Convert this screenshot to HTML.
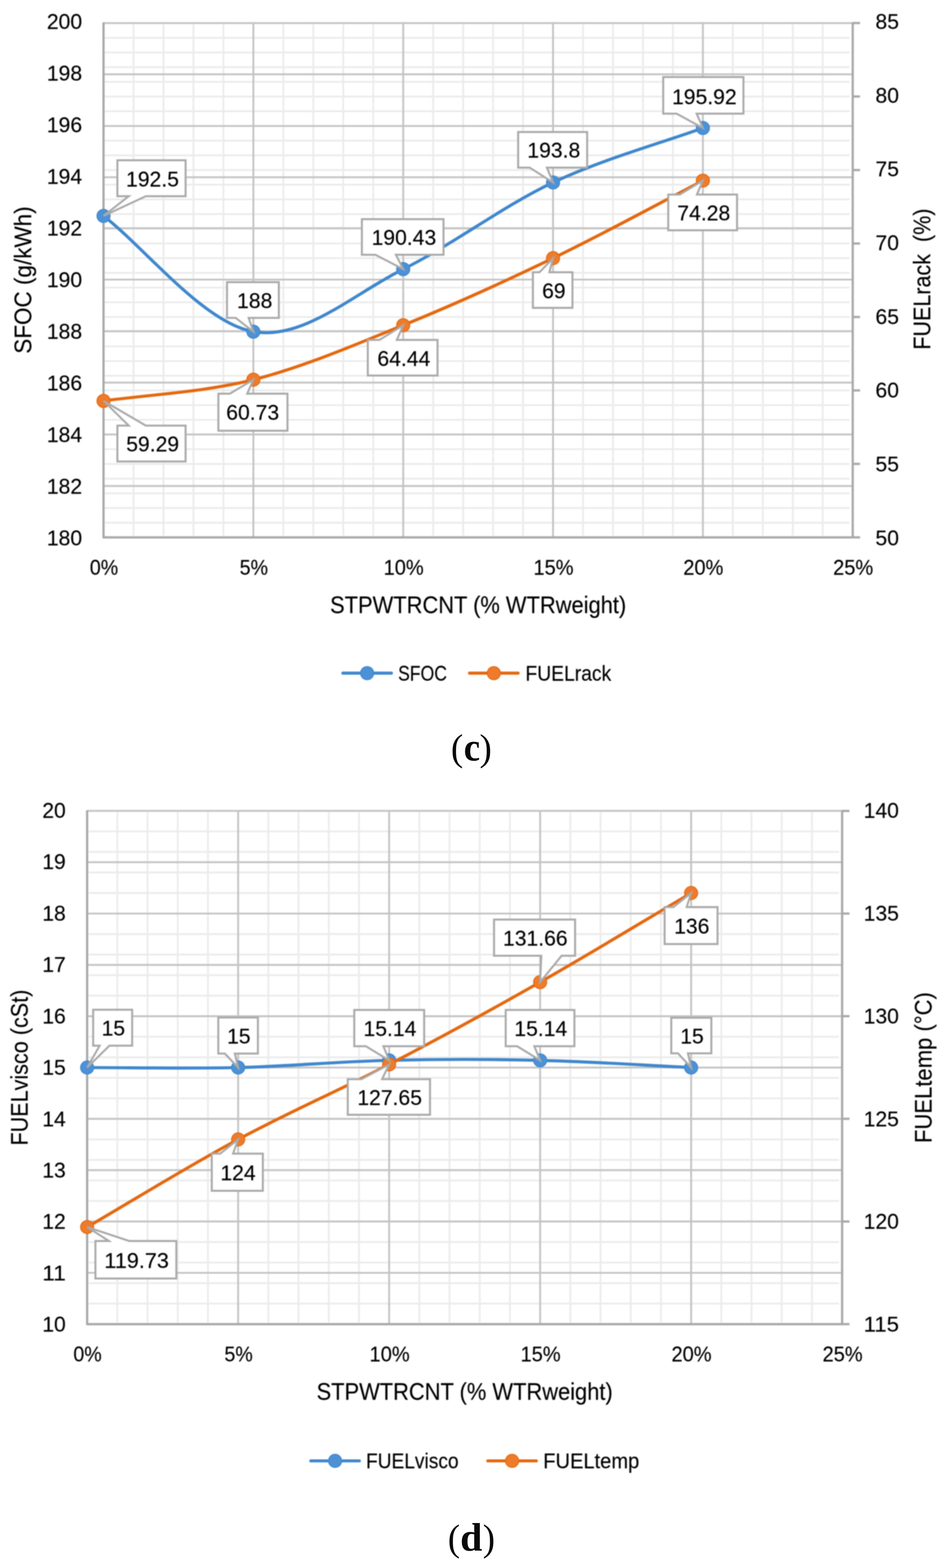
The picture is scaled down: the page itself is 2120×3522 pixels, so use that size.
<!DOCTYPE html>
<html lang="en">
<head>
<meta charset="utf-8">
<title>Charts (c) and (d)</title>
<style>
html,body{margin:0;padding:0;background:#fff;}
body{width:2120px;height:3522px;overflow:hidden;}
svg{display:block;font-family:"Liberation Sans","DejaVu Sans",sans-serif;}
svg text{stroke:#000;stroke-width:0.3px;paint-order:stroke;}
svg text.cap{stroke:none;}
</style>
</head>
<body>
<svg width="2120" height="3522" viewBox="0 0 2120 3522">
<defs><filter id="soft" color-interpolation-filters="sRGB" filterUnits="userSpaceOnUse" x="0" y="0" width="2120" height="3522"><feGaussianBlur stdDeviation="0.9"/></filter></defs>
<rect width="2120" height="3522" fill="#fff"/>
<g filter="url(#soft)">
<g>
<path d="M299.8,54.8V1203.1M367.1,54.8V1203.1M434.4,54.8V1203.1M501.7,54.8V1203.1M636.3,54.8V1203.1M703.6,54.8V1203.1M770.9,54.8V1203.1M838.2,54.8V1203.1M972.8,54.8V1203.1M1040.1,54.8V1203.1M1107.4,54.8V1203.1M1174.7,54.8V1203.1M1309.3,54.8V1203.1M1376.6,54.8V1203.1M1443.9,54.8V1203.1M1511.2,54.8V1203.1M1645.8,54.8V1203.1M1713.1,54.8V1203.1M1780.4,54.8V1203.1M1847.7,54.8V1203.1" stroke="#ececec" stroke-width="4.2" fill="none"/>
<path d="M235.5,84.8H1908.0M235.5,117.8H1908.0M235.5,150.8H1908.0M235.5,183.8H1908.0M235.5,216.8H1908.0M235.5,249.9H1908.0M235.5,282.9H1908.0M235.5,315.9H1908.0M235.5,348.9H1908.0M235.5,381.9H1908.0M235.5,414.9H1908.0M235.5,447.9H1908.0M235.5,480.9H1908.0M235.5,513.9H1908.0M235.5,546.9H1908.0M235.5,579.9H1908.0M235.5,612.9H1908.0M235.5,646.0H1908.0M235.5,679.0H1908.0M235.5,712.0H1908.0M235.5,745.0H1908.0M235.5,778.0H1908.0M235.5,811.0H1908.0M235.5,844.0H1908.0M235.5,877.0H1908.0M235.5,910.0H1908.0M235.5,943.0H1908.0M235.5,976.0H1908.0M235.5,1009.0H1908.0M235.5,1042.1H1908.0M235.5,1075.1H1908.0M235.5,1108.1H1908.0M235.5,1141.1H1908.0M235.5,1174.1H1908.0" stroke="#ececec" stroke-width="4.2" fill="none"/>
<path d="M232.5,51.8H1915.0M232.5,166.9H1915.0M232.5,283.0H1915.0M232.5,398.2H1915.0M232.5,512.6H1915.0M232.5,628.0H1915.0M232.5,743.8H1915.0M232.5,859.4H1915.0M232.5,975.8H1915.0M232.5,1091.7H1915.0M232.5,1207.1H1915.0M569.0,51.8V1207.1M905.5,51.8V1207.1M1242.0,51.8V1207.1M1578.5,51.8V1207.1" stroke="#c4c4c4" stroke-width="4.2" fill="none"/>
<path d="M232.5,50.3V1208.7M231.0,1207.1H1916.5M1915.0,50.3V1208.7M1915.0,51.8h16.5M1915.0,216.8h16.5M1915.0,381.9h16.5M1915.0,546.9h16.5M1915.0,712.0h16.5M1915.0,877.0h16.5M1915.0,1042.1h16.5M1915.0,1207.1h16.5" stroke="#a8a8a8" stroke-width="5.0" fill="none"/>
</g>
<g fill="#000000">
<text x="184.5" y="1224.5" font-size="47.3" text-anchor="end" textLength="79.3" lengthAdjust="spacingAndGlyphs" xml:space="preserve">180</text>
<text x="184.5" y="1108.5" font-size="47.3" text-anchor="end" textLength="79.3" lengthAdjust="spacingAndGlyphs" xml:space="preserve">182</text>
<text x="184.5" y="992.6" font-size="47.3" text-anchor="end" textLength="79.3" lengthAdjust="spacingAndGlyphs" xml:space="preserve">184</text>
<text x="184.5" y="876.6" font-size="47.3" text-anchor="end" textLength="79.3" lengthAdjust="spacingAndGlyphs" xml:space="preserve">186</text>
<text x="184.5" y="760.7" font-size="47.3" text-anchor="end" textLength="79.3" lengthAdjust="spacingAndGlyphs" xml:space="preserve">188</text>
<text x="184.5" y="644.7" font-size="47.3" text-anchor="end" textLength="79.3" lengthAdjust="spacingAndGlyphs" xml:space="preserve">190</text>
<text x="184.5" y="528.7" font-size="47.3" text-anchor="end" textLength="79.3" lengthAdjust="spacingAndGlyphs" xml:space="preserve">192</text>
<text x="184.5" y="412.8" font-size="47.3" text-anchor="end" textLength="79.3" lengthAdjust="spacingAndGlyphs" xml:space="preserve">194</text>
<text x="184.5" y="296.8" font-size="47.3" text-anchor="end" textLength="79.3" lengthAdjust="spacingAndGlyphs" xml:space="preserve">196</text>
<text x="184.5" y="180.9" font-size="47.3" text-anchor="end" textLength="79.3" lengthAdjust="spacingAndGlyphs" xml:space="preserve">198</text>
<text x="184.5" y="64.9" font-size="47.3" text-anchor="end" textLength="79.3" lengthAdjust="spacingAndGlyphs" xml:space="preserve">200</text>
<text x="1966.0" y="1224.5" font-size="47.3" text-anchor="start" textLength="52.8" lengthAdjust="spacingAndGlyphs" xml:space="preserve">50</text>
<text x="1966.0" y="1058.8" font-size="47.3" text-anchor="start" textLength="52.8" lengthAdjust="spacingAndGlyphs" xml:space="preserve">55</text>
<text x="1966.0" y="893.2" font-size="47.3" text-anchor="start" textLength="52.8" lengthAdjust="spacingAndGlyphs" xml:space="preserve">60</text>
<text x="1966.0" y="727.5" font-size="47.3" text-anchor="start" textLength="52.8" lengthAdjust="spacingAndGlyphs" xml:space="preserve">65</text>
<text x="1966.0" y="561.9" font-size="47.3" text-anchor="start" textLength="52.8" lengthAdjust="spacingAndGlyphs" xml:space="preserve">70</text>
<text x="1966.0" y="396.2" font-size="47.3" text-anchor="start" textLength="52.8" lengthAdjust="spacingAndGlyphs" xml:space="preserve">75</text>
<text x="1966.0" y="230.6" font-size="47.3" text-anchor="start" textLength="52.8" lengthAdjust="spacingAndGlyphs" xml:space="preserve">80</text>
<text x="1966.0" y="64.9" font-size="47.3" text-anchor="start" textLength="52.8" lengthAdjust="spacingAndGlyphs" xml:space="preserve">85</text>
<text x="233.5" y="1291.1" font-size="47.3" text-anchor="middle" textLength="63.7" lengthAdjust="spacingAndGlyphs" xml:space="preserve">0%</text>
<text x="570.0" y="1291.1" font-size="47.3" text-anchor="middle" textLength="63.7" lengthAdjust="spacingAndGlyphs" xml:space="preserve">5%</text>
<text x="906.5" y="1291.1" font-size="47.3" text-anchor="middle" textLength="90.1" lengthAdjust="spacingAndGlyphs" xml:space="preserve">10%</text>
<text x="1243.0" y="1291.1" font-size="47.3" text-anchor="middle" textLength="90.1" lengthAdjust="spacingAndGlyphs" xml:space="preserve">15%</text>
<text x="1579.5" y="1291.1" font-size="47.3" text-anchor="middle" textLength="90.1" lengthAdjust="spacingAndGlyphs" xml:space="preserve">20%</text>
<text x="1916.0" y="1291.1" font-size="47.3" text-anchor="middle" textLength="90.1" lengthAdjust="spacingAndGlyphs" xml:space="preserve">25%</text>
<text x="1073.8" y="1377.0" font-size="53.9" text-anchor="middle" textLength="665.1" lengthAdjust="spacingAndGlyphs" xml:space="preserve">STPWTRCNT (% WTRweight)</text>
<text x="70.0" y="629.0" font-size="53.9" text-anchor="middle" textLength="330.9" lengthAdjust="spacingAndGlyphs" xml:space="preserve" transform="rotate(-90 70.0 629.0)">SFOC (g/kWh)</text>
<text x="2089.0" y="627.0" font-size="53.9" text-anchor="middle" textLength="317.2" lengthAdjust="spacingAndGlyphs" xml:space="preserve" transform="rotate(-90 2089.0 627.0)">FUELrack  (%)</text>
</g>
<path d="M232.5,485.0 C326.7,557.8 456.8,725.1 569.0,745.0 C681.2,764.9 793.3,660.5 905.5,604.6 C1017.7,548.8 1129.8,462.8 1242.0,409.9 C1354.2,357.1 1484.3,321.8 1578.5,287.5" stroke="#3F87CD" stroke-width="6.9" fill="none" stroke-linecap="round"/>
<circle cx="232.5" cy="485.0" r="14.8" fill="#4C91D6" stroke="#3F87CD" stroke-width="2"/>
<circle cx="569.0" cy="745.0" r="14.8" fill="#4C91D6" stroke="#3F87CD" stroke-width="2"/>
<circle cx="905.5" cy="604.6" r="14.8" fill="#4C91D6" stroke="#3F87CD" stroke-width="2"/>
<circle cx="1242.0" cy="409.9" r="14.8" fill="#4C91D6" stroke="#3F87CD" stroke-width="2"/>
<circle cx="1578.5" cy="287.5" r="14.8" fill="#4C91D6" stroke="#3F87CD" stroke-width="2"/>
<path d="M232.5,900.5 C326.7,887.1 456.8,881.3 569.0,852.9 C681.2,824.6 793.3,776.0 905.5,730.5 C1017.7,685.0 1129.8,634.1 1242.0,579.9 C1354.2,525.8 1484.3,454.5 1578.5,405.7" stroke="#E4680F" stroke-width="6.9" fill="none" stroke-linecap="round"/>
<circle cx="232.5" cy="900.5" r="14.8" fill="#EE7B2A" stroke="#E4680F" stroke-width="2"/>
<circle cx="569.0" cy="852.9" r="14.8" fill="#EE7B2A" stroke="#E4680F" stroke-width="2"/>
<circle cx="905.5" cy="730.5" r="14.8" fill="#EE7B2A" stroke="#E4680F" stroke-width="2"/>
<circle cx="1242.0" cy="579.9" r="14.8" fill="#EE7B2A" stroke="#E4680F" stroke-width="2"/>
<circle cx="1578.5" cy="405.7" r="14.8" fill="#EE7B2A" stroke="#E4680F" stroke-width="2"/>
<g fill="#000000">
<path d="M263.6,360.0 L416.8,360.0 L416.8,440.8 L327.4,440.8 L232.5,485.0 L289.1,440.8 L263.6,440.8 Z" fill="#fff" stroke="#aaaaaa" stroke-width="4.5" stroke-linejoin="miter"/>
<text x="342.4" y="418.8" font-size="47.3" text-anchor="middle" textLength="118.8" lengthAdjust="spacingAndGlyphs" xml:space="preserve">192.5</text>
<path d="M509.8,633.8 L626.2,633.8 L626.2,714.0 L558.3,714.0 L569.0,745.0 L529.2,714.0 L509.8,714.0 Z" fill="#fff" stroke="#aaaaaa" stroke-width="4.5" stroke-linejoin="miter"/>
<text x="572.0" y="692.3" font-size="47.3" text-anchor="middle" textLength="79.3" lengthAdjust="spacingAndGlyphs" xml:space="preserve">188</text>
<path d="M812.7,492.3 L996.0,492.3 L996.0,572.3 L889.1,572.3 L905.5,604.6 L843.2,572.3 L812.7,572.3 Z" fill="#fff" stroke="#aaaaaa" stroke-width="4.5" stroke-linejoin="miter"/>
<text x="907.0" y="550.3" font-size="47.3" text-anchor="middle" textLength="145.2" lengthAdjust="spacingAndGlyphs" xml:space="preserve">190.43</text>
<path d="M1163.6,296.4 L1318.6,296.4 L1318.6,376.4 L1228.2,376.4 L1242.0,409.9 L1189.4,376.4 L1163.6,376.4 Z" fill="#fff" stroke="#aaaaaa" stroke-width="4.5" stroke-linejoin="miter"/>
<text x="1243.7" y="354.4" font-size="47.3" text-anchor="middle" textLength="118.8" lengthAdjust="spacingAndGlyphs" xml:space="preserve">193.8</text>
<path d="M1489.4,172.9 L1669.6,172.9 L1669.6,255.2 L1564.5,255.2 L1578.5,287.5 L1519.4,255.2 L1489.4,255.2 Z" fill="#fff" stroke="#aaaaaa" stroke-width="4.5" stroke-linejoin="miter"/>
<text x="1581.8" y="233.5" font-size="47.3" text-anchor="middle" textLength="145.2" lengthAdjust="spacingAndGlyphs" xml:space="preserve">195.92</text>
<path d="M263.6,956.0 L289.1,956.0 L232.5,900.5 L327.4,956.0 L416.8,956.0 L416.8,1036.4 L263.6,1036.4 Z" fill="#fff" stroke="#aaaaaa" stroke-width="4.5" stroke-linejoin="miter"/>
<text x="342.8" y="1014.2" font-size="47.3" text-anchor="middle" textLength="118.8" lengthAdjust="spacingAndGlyphs" xml:space="preserve">59.29</text>
<path d="M490.4,884.2 L516.3,884.2 L569.0,852.9 L555.1,884.2 L645.6,884.2 L645.6,967.6 L490.4,967.6 Z" fill="#fff" stroke="#aaaaaa" stroke-width="4.5" stroke-linejoin="miter"/>
<text x="567.4" y="943.2" font-size="47.3" text-anchor="middle" textLength="118.8" lengthAdjust="spacingAndGlyphs" xml:space="preserve">60.73</text>
<path d="M826.0,763.5 L852.1,763.5 L905.5,730.5 L891.2,763.5 L982.6,763.5 L982.6,843.6 L826.0,843.6 Z" fill="#fff" stroke="#aaaaaa" stroke-width="4.5" stroke-linejoin="miter"/>
<text x="906.9" y="821.5" font-size="47.3" text-anchor="middle" textLength="118.8" lengthAdjust="spacingAndGlyphs" xml:space="preserve">64.44</text>
<path d="M1196.8,611.6 L1211.6,611.6 L1242.0,579.9 L1233.8,611.6 L1285.6,611.6 L1285.6,691.4 L1196.8,691.4 Z" fill="#fff" stroke="#aaaaaa" stroke-width="4.5" stroke-linejoin="miter"/>
<text x="1243.8" y="669.5" font-size="47.3" text-anchor="middle" textLength="52.8" lengthAdjust="spacingAndGlyphs" xml:space="preserve">69</text>
<path d="M1500.7,437.0 L1526.5,437.0 L1578.5,405.7 L1565.1,437.0 L1655.2,437.0 L1655.2,517.2 L1500.7,517.2 Z" fill="#fff" stroke="#aaaaaa" stroke-width="4.5" stroke-linejoin="miter"/>
<text x="1580.5" y="495.1" font-size="47.3" text-anchor="middle" textLength="118.8" lengthAdjust="spacingAndGlyphs" xml:space="preserve">74.28</text>
</g>
<g fill="#000000">
<path d="M770.0,1512.0H879.0" stroke="#3F87CD" stroke-width="6.9" stroke-linecap="round"/>
<circle cx="824.5" cy="1512.0" r="14.8" fill="#4C91D6" stroke="#3F87CD" stroke-width="2"/>
<text x="894.0" y="1528.6" font-size="47.3" text-anchor="start" textLength="109.7" lengthAdjust="spacingAndGlyphs" xml:space="preserve">SFOC</text>
<path d="M1054.5,1512.0H1163.5" stroke="#E4680F" stroke-width="6.9" stroke-linecap="round"/>
<circle cx="1109.0" cy="1512.0" r="14.8" fill="#EE7B2A" stroke="#E4680F" stroke-width="2"/>
<text x="1180.0" y="1528.6" font-size="47.3" text-anchor="start" textLength="192.6" lengthAdjust="spacingAndGlyphs" xml:space="preserve">FUELrack</text>
</g>
<g>
<path d="M263.5,1824.4V2970.3M331.3,1824.4V2970.3M399.2,1824.4V2970.3M467.0,1824.4V2970.3M602.6,1824.4V2970.3M670.4,1824.4V2970.3M738.3,1824.4V2970.3M806.1,1824.4V2970.3M941.7,1824.4V2970.3M1009.5,1824.4V2970.3M1077.4,1824.4V2970.3M1145.2,1824.4V2970.3M1280.8,1824.4V2970.3M1348.6,1824.4V2970.3M1416.5,1824.4V2970.3M1484.3,1824.4V2970.3M1619.9,1824.4V2970.3M1687.7,1824.4V2970.3M1755.6,1824.4V2970.3M1823.4,1824.4V2970.3" stroke="#ececec" stroke-width="4.2" fill="none"/>
<path d="M198.7,1867.5H1884.2M198.7,1913.6H1884.2M198.7,1959.7H1884.2M198.7,2005.9H1884.2M198.7,2052.0H1884.2M198.7,2098.1H1884.2M198.7,2144.2H1884.2M198.7,2190.3H1884.2M198.7,2236.4H1884.2M198.7,2282.6H1884.2M198.7,2328.7H1884.2M198.7,2374.8H1884.2M198.7,2420.9H1884.2M198.7,2467.0H1884.2M198.7,2513.1H1884.2M198.7,2559.3H1884.2M198.7,2605.4H1884.2M198.7,2651.5H1884.2M198.7,2697.6H1884.2M198.7,2743.7H1884.2M198.7,2789.8H1884.2M198.7,2836.0H1884.2M198.7,2882.1H1884.2M198.7,2928.2H1884.2" stroke="#ececec" stroke-width="4.2" fill="none"/>
<path d="M195.7,1821.4H1891.2M195.7,1936.7H1891.2M195.7,2052.0H1891.2M195.7,2167.3H1891.2M195.7,2282.6H1891.2M195.7,2397.9H1891.2M195.7,2513.1H1891.2M195.7,2628.4H1891.2M195.7,2743.7H1891.2M195.7,2859.0H1891.2M195.7,2974.3H1891.2M534.8,1821.4V2974.3M873.9,1821.4V2974.3M1213.0,1821.4V2974.3M1552.1,1821.4V2974.3" stroke="#c4c4c4" stroke-width="4.2" fill="none"/>
<path d="M195.7,1819.9V2975.9M194.2,2974.3H1892.7M1891.2,1819.9V2975.9M1891.2,1821.4h16.5M1891.2,2052.0h16.5M1891.2,2282.6h16.5M1891.2,2513.1h16.5M1891.2,2743.7h16.5M1891.2,2974.3h16.5" stroke="#a8a8a8" stroke-width="5.0" fill="none"/>
</g>
<g fill="#000000">
<text x="147.7" y="2991.3" font-size="47.3" text-anchor="end" textLength="52.8" lengthAdjust="spacingAndGlyphs" xml:space="preserve">10</text>
<text x="147.7" y="2875.9" font-size="47.3" text-anchor="end" textLength="52.8" lengthAdjust="spacingAndGlyphs" xml:space="preserve">11</text>
<text x="147.7" y="2760.4" font-size="47.3" text-anchor="end" textLength="52.8" lengthAdjust="spacingAndGlyphs" xml:space="preserve">12</text>
<text x="147.7" y="2645.0" font-size="47.3" text-anchor="end" textLength="52.8" lengthAdjust="spacingAndGlyphs" xml:space="preserve">13</text>
<text x="147.7" y="2529.6" font-size="47.3" text-anchor="end" textLength="52.8" lengthAdjust="spacingAndGlyphs" xml:space="preserve">14</text>
<text x="147.7" y="2414.2" font-size="47.3" text-anchor="end" textLength="52.8" lengthAdjust="spacingAndGlyphs" xml:space="preserve">15</text>
<text x="147.7" y="2298.7" font-size="47.3" text-anchor="end" textLength="52.8" lengthAdjust="spacingAndGlyphs" xml:space="preserve">16</text>
<text x="147.7" y="2183.3" font-size="47.3" text-anchor="end" textLength="52.8" lengthAdjust="spacingAndGlyphs" xml:space="preserve">17</text>
<text x="147.7" y="2067.9" font-size="47.3" text-anchor="end" textLength="52.8" lengthAdjust="spacingAndGlyphs" xml:space="preserve">18</text>
<text x="147.7" y="1952.4" font-size="47.3" text-anchor="end" textLength="52.8" lengthAdjust="spacingAndGlyphs" xml:space="preserve">19</text>
<text x="147.7" y="1837.0" font-size="47.3" text-anchor="end" textLength="52.8" lengthAdjust="spacingAndGlyphs" xml:space="preserve">20</text>
<text x="1939.5" y="2991.3" font-size="47.3" text-anchor="start" textLength="79.3" lengthAdjust="spacingAndGlyphs" xml:space="preserve">115</text>
<text x="1939.5" y="2760.4" font-size="47.3" text-anchor="start" textLength="79.3" lengthAdjust="spacingAndGlyphs" xml:space="preserve">120</text>
<text x="1939.5" y="2529.6" font-size="47.3" text-anchor="start" textLength="79.3" lengthAdjust="spacingAndGlyphs" xml:space="preserve">125</text>
<text x="1939.5" y="2298.7" font-size="47.3" text-anchor="start" textLength="79.3" lengthAdjust="spacingAndGlyphs" xml:space="preserve">130</text>
<text x="1939.5" y="2067.9" font-size="47.3" text-anchor="start" textLength="79.3" lengthAdjust="spacingAndGlyphs" xml:space="preserve">135</text>
<text x="1939.5" y="1837.0" font-size="47.3" text-anchor="start" textLength="79.3" lengthAdjust="spacingAndGlyphs" xml:space="preserve">140</text>
<text x="196.7" y="3058.3" font-size="47.3" text-anchor="middle" textLength="63.7" lengthAdjust="spacingAndGlyphs" xml:space="preserve">0%</text>
<text x="535.8" y="3058.3" font-size="47.3" text-anchor="middle" textLength="63.7" lengthAdjust="spacingAndGlyphs" xml:space="preserve">5%</text>
<text x="874.9" y="3058.3" font-size="47.3" text-anchor="middle" textLength="90.1" lengthAdjust="spacingAndGlyphs" xml:space="preserve">10%</text>
<text x="1214.0" y="3058.3" font-size="47.3" text-anchor="middle" textLength="90.1" lengthAdjust="spacingAndGlyphs" xml:space="preserve">15%</text>
<text x="1553.1" y="3058.3" font-size="47.3" text-anchor="middle" textLength="90.1" lengthAdjust="spacingAndGlyphs" xml:space="preserve">20%</text>
<text x="1892.2" y="3058.3" font-size="47.3" text-anchor="middle" textLength="90.1" lengthAdjust="spacingAndGlyphs" xml:space="preserve">25%</text>
<text x="1043.5" y="3144.0" font-size="53.9" text-anchor="middle" textLength="665.1" lengthAdjust="spacingAndGlyphs" xml:space="preserve">STPWTRCNT (% WTRweight)</text>
<text x="62.0" y="2398.0" font-size="53.9" text-anchor="middle" textLength="350.1" lengthAdjust="spacingAndGlyphs" xml:space="preserve" transform="rotate(-90 62.0 2398.0)">FUELvisco (cSt)</text>
<text x="2092.0" y="2398.0" font-size="53.9" text-anchor="middle" textLength="338.9" lengthAdjust="spacingAndGlyphs" xml:space="preserve" transform="rotate(-90 2092.0 2398.0)">FUELtemp (°C)</text>
</g>
<path d="M195.7,2397.9 C290.6,2397.9 421.8,2400.5 534.8,2397.9 C647.8,2395.2 760.9,2384.4 873.9,2381.7 C986.9,2379.0 1100.0,2379.0 1213.0,2381.7 C1326.0,2384.4 1457.2,2393.3 1552.1,2397.9" stroke="#3F87CD" stroke-width="6.9" fill="none" stroke-linecap="round"/>
<circle cx="195.7" cy="2397.9" r="14.8" fill="#4C91D6" stroke="#3F87CD" stroke-width="2"/>
<circle cx="534.8" cy="2397.9" r="14.8" fill="#4C91D6" stroke="#3F87CD" stroke-width="2"/>
<circle cx="873.9" cy="2381.7" r="14.8" fill="#4C91D6" stroke="#3F87CD" stroke-width="2"/>
<circle cx="1213.0" cy="2381.7" r="14.8" fill="#4C91D6" stroke="#3F87CD" stroke-width="2"/>
<circle cx="1552.1" cy="2397.9" r="14.8" fill="#4C91D6" stroke="#3F87CD" stroke-width="2"/>
<path d="M195.7,2756.2 C290.6,2701.0 421.8,2620.1 534.8,2559.3 C647.8,2498.4 760.9,2449.8 873.9,2390.9 C986.9,2332.1 1100.0,2270.2 1213.0,2206.0 C1326.0,2141.8 1457.2,2061.9 1552.1,2005.9" stroke="#E4680F" stroke-width="6.9" fill="none" stroke-linecap="round"/>
<circle cx="195.7" cy="2756.2" r="14.8" fill="#EE7B2A" stroke="#E4680F" stroke-width="2"/>
<circle cx="534.8" cy="2559.3" r="14.8" fill="#EE7B2A" stroke="#E4680F" stroke-width="2"/>
<circle cx="873.9" cy="2390.9" r="14.8" fill="#EE7B2A" stroke="#E4680F" stroke-width="2"/>
<circle cx="1213.0" cy="2206.0" r="14.8" fill="#EE7B2A" stroke="#E4680F" stroke-width="2"/>
<circle cx="1552.1" cy="2005.9" r="14.8" fill="#EE7B2A" stroke="#E4680F" stroke-width="2"/>
<g fill="#000000">
<path d="M214.3,2787.5 L244.6,2787.5 L195.7,2756.2 L290.0,2787.5 L396.0,2787.5 L396.0,2871.8 L214.3,2871.8 Z" fill="#fff" stroke="#aaaaaa" stroke-width="4.5" stroke-linejoin="miter"/>
<text x="306.8" y="2847.7" font-size="47.3" text-anchor="middle" textLength="145.2" lengthAdjust="spacingAndGlyphs" xml:space="preserve">119.73</text>
<path d="M475.6,2591.2 L494.7,2591.2 L534.8,2559.3 L523.4,2591.2 L590.3,2591.2 L590.3,2674.8 L475.6,2674.8 Z" fill="#fff" stroke="#aaaaaa" stroke-width="4.5" stroke-linejoin="miter"/>
<text x="534.6" y="2651.0" font-size="47.3" text-anchor="middle" textLength="79.3" lengthAdjust="spacingAndGlyphs" xml:space="preserve">124</text>
<path d="M781.0,2424.0 L811.8,2424.0 L873.9,2390.9 L858.0,2424.0 L965.7,2424.0 L965.7,2504.0 L781.0,2504.0 Z" fill="#fff" stroke="#aaaaaa" stroke-width="4.5" stroke-linejoin="miter"/>
<text x="875.0" y="2482.0" font-size="47.3" text-anchor="middle" textLength="145.2" lengthAdjust="spacingAndGlyphs" xml:space="preserve">127.65</text>
<path d="M1109.5,2065.4 L1291.5,2065.4 L1291.5,2146.8 L1261.2,2146.8 L1213.0,2206.0 L1215.7,2146.8 L1109.5,2146.8 Z" fill="#fff" stroke="#aaaaaa" stroke-width="4.5" stroke-linejoin="miter"/>
<text x="1202.1" y="2124.1" font-size="47.3" text-anchor="middle" textLength="145.2" lengthAdjust="spacingAndGlyphs" xml:space="preserve">131.66</text>
<path d="M1492.6,2037.5 L1512.4,2037.5 L1552.1,2005.9 L1542.1,2037.5 L1611.4,2037.5 L1611.4,2120.5 L1492.6,2120.5 Z" fill="#fff" stroke="#aaaaaa" stroke-width="4.5" stroke-linejoin="miter"/>
<text x="1553.6" y="2097.0" font-size="47.3" text-anchor="middle" textLength="79.3" lengthAdjust="spacingAndGlyphs" xml:space="preserve">136</text>
<path d="M209.2,2267.9 L296.8,2267.9 L296.8,2348.8 L245.7,2348.8 L195.7,2397.9 L223.8,2348.8 L209.2,2348.8 Z" fill="#fff" stroke="#aaaaaa" stroke-width="4.5" stroke-linejoin="miter"/>
<text x="254.6" y="2326.4" font-size="47.3" text-anchor="middle" textLength="52.8" lengthAdjust="spacingAndGlyphs" xml:space="preserve">15</text>
<path d="M490.2,2285.6 L579.2,2285.6 L579.2,2366.6 L527.3,2366.6 L534.8,2397.9 L505.0,2366.6 L490.2,2366.6 Z" fill="#fff" stroke="#aaaaaa" stroke-width="4.5" stroke-linejoin="miter"/>
<text x="536.3" y="2344.1" font-size="47.3" text-anchor="middle" textLength="52.8" lengthAdjust="spacingAndGlyphs" xml:space="preserve">15</text>
<path d="M795.6,2268.4 L952.6,2268.4 L952.6,2350.0 L861.0,2350.0 L873.9,2381.7 L821.8,2350.0 L795.6,2350.0 Z" fill="#fff" stroke="#aaaaaa" stroke-width="4.5" stroke-linejoin="miter"/>
<text x="875.7" y="2327.2" font-size="47.3" text-anchor="middle" textLength="118.8" lengthAdjust="spacingAndGlyphs" xml:space="preserve">15.14</text>
<path d="M1135.7,2268.6 L1290.0,2268.6 L1290.0,2350.0 L1200.0,2350.0 L1213.0,2381.7 L1161.4,2350.0 L1135.7,2350.0 Z" fill="#fff" stroke="#aaaaaa" stroke-width="4.5" stroke-linejoin="miter"/>
<text x="1214.4" y="2327.3" font-size="47.3" text-anchor="middle" textLength="118.8" lengthAdjust="spacingAndGlyphs" xml:space="preserve">15.14</text>
<path d="M1507.5,2286.0 L1597.5,2286.0 L1597.5,2366.0 L1545.0,2366.0 L1552.1,2397.9 L1522.5,2366.0 L1507.5,2366.0 Z" fill="#fff" stroke="#aaaaaa" stroke-width="4.5" stroke-linejoin="miter"/>
<text x="1554.1" y="2344.0" font-size="47.3" text-anchor="middle" textLength="52.8" lengthAdjust="spacingAndGlyphs" xml:space="preserve">15</text>
</g>
<g fill="#000000">
<path d="M698.0,3281.4H807.0" stroke="#3F87CD" stroke-width="6.9" stroke-linecap="round"/>
<circle cx="752.5" cy="3281.4" r="14.8" fill="#4C91D6" stroke="#3F87CD" stroke-width="2"/>
<text x="822.0" y="3298.0" font-size="47.3" text-anchor="start" textLength="207.8" lengthAdjust="spacingAndGlyphs" xml:space="preserve">FUELvisco</text>
<path d="M1095.5,3281.4H1204.5" stroke="#E4680F" stroke-width="6.9" stroke-linecap="round"/>
<circle cx="1150.0" cy="3281.4" r="14.8" fill="#EE7B2A" stroke="#E4680F" stroke-width="2"/>
<text x="1220.0" y="3298.0" font-size="47.3" text-anchor="start" textLength="215.6" lengthAdjust="spacingAndGlyphs" xml:space="preserve">FUELtemp</text>
</g>
</g>
<text font-family="'Liberation Serif', 'DejaVu Serif', serif" fill="#0a0a0a" class="cap" y="1708.0" font-size="84"><tspan x="1012.8" textLength="27.4" lengthAdjust="spacingAndGlyphs">(</tspan><tspan x="1041.4" font-size="88" font-weight="bold" textLength="36.6" lengthAdjust="spacingAndGlyphs">c</tspan><tspan x="1077.0" textLength="27.4" lengthAdjust="spacingAndGlyphs">)</tspan></text>
<text font-family="'Liberation Serif', 'DejaVu Serif', serif" fill="#0a0a0a" class="cap" y="3483.0" font-size="84"><tspan x="1005.8" textLength="27.4" lengthAdjust="spacingAndGlyphs">(</tspan><tspan x="1033.6" font-size="88" font-weight="bold" textLength="49.6" lengthAdjust="spacingAndGlyphs">d</tspan><tspan x="1084.2" textLength="27.4" lengthAdjust="spacingAndGlyphs">)</tspan></text>
</svg>
</body>
</html>
